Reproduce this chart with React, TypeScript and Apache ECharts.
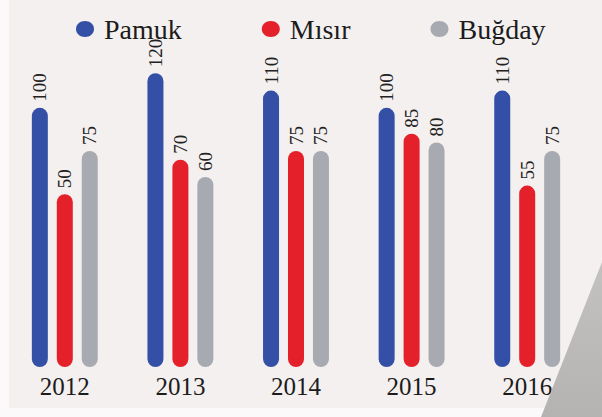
import React, { useEffect, useRef } from "react";
import * as echarts from "echarts";

const years = ["2012", "2013", "2014", "2015", "2016"];
const seriesNames = ["Pamuk", "Mısır", "Buğday"];
const pamuk = [100, 120, 110, 100, 110];
const misir = [50, 70, 75, 85, 55];
const bugday = [75, 60, 75, 80, 75];
const colors = ["#3450a6", "#e4202b", "#a8aab1"];

export default function App() {
  const ref = useRef<HTMLDivElement>(null);
  useEffect(() => {
    if (!ref.current) return;
    const chart = echarts.init(ref.current, null, { renderer: "svg" });
    const serif = "Liberation Serif";
    const values = [pamuk, misir, bugday];
    chart.setOption({
      animation: false,
      backgroundColor: "#fbf9f9",
      color: colors,
      textStyle: { fontFamily: serif },
      graphic: [
        {
          type: "rect",
          z: -10,
          shape: { x: 9, y: 0, width: 593, height: 408 },
          style: { fill: "#f4f0ef" },
        },
        {
          type: "polygon",
          z: 100,
          shape: { points: [[602, 262], [602, 417], [541, 417]] },
          style: {
            fill: new echarts.graphic.LinearGradient(0, 0, 0, 1, [
              { offset: 0, color: "#c4c2c1" },
              { offset: 1, color: "#b5b3b2" },
            ]),
          },
        },
      ],
      legend: {
        top: 10,
        left: 71,
        itemGap: 80,
        itemWidth: 18,
        itemHeight: 16,
        icon: "path://M9,0C14,0 18,3.5 18,8C18,12.5 14,16 9,16C4,16 0,12.5 0,8C0,3.5 4,0 9,0Z",
        data: seriesNames,
        textStyle: {
          fontFamily: serif,
          fontSize: 28,
          color: "#1c1c1c",
          padding: [0, 0, 0, 5],
        },
      },
      grid: { left: 7, right: 17, top: 56, bottom: 50, containLabel: false },
      xAxis: {
        type: "category",
        data: years,
        axisLine: { show: false },
        axisTick: { show: false },
        axisLabel: {
          fontFamily: serif,
          fontSize: 25,
          color: "#1c1c1c",
          margin: 7,
        },
      },
      yAxis: {
        type: "value",
        min: -50,
        max: 130,
        startValue: -50,
        show: false,
        splitLine: { show: false },
      },
      series: seriesNames.map((name, i) => ({
        name,
        type: "bar",
        data: values[i],
        barWidth: 16,
        barGap: "56%",
        itemStyle: { color: colors[i], borderRadius: 8 },
        label: {
          show: true,
          position: "top",
          rotate: 90,
          align: "left",
          verticalAlign: "middle",
          distance: 6,
          fontFamily: serif,
          fontSize: 19,
          color: "#222",
        },
      })),
    });
    return () => chart.dispose();
  }, []);
  return (
    <div
      ref={ref}
      style={{ position: "absolute", left: 0, top: 0, width: 602, height: 417 }}
    />
  );
}
